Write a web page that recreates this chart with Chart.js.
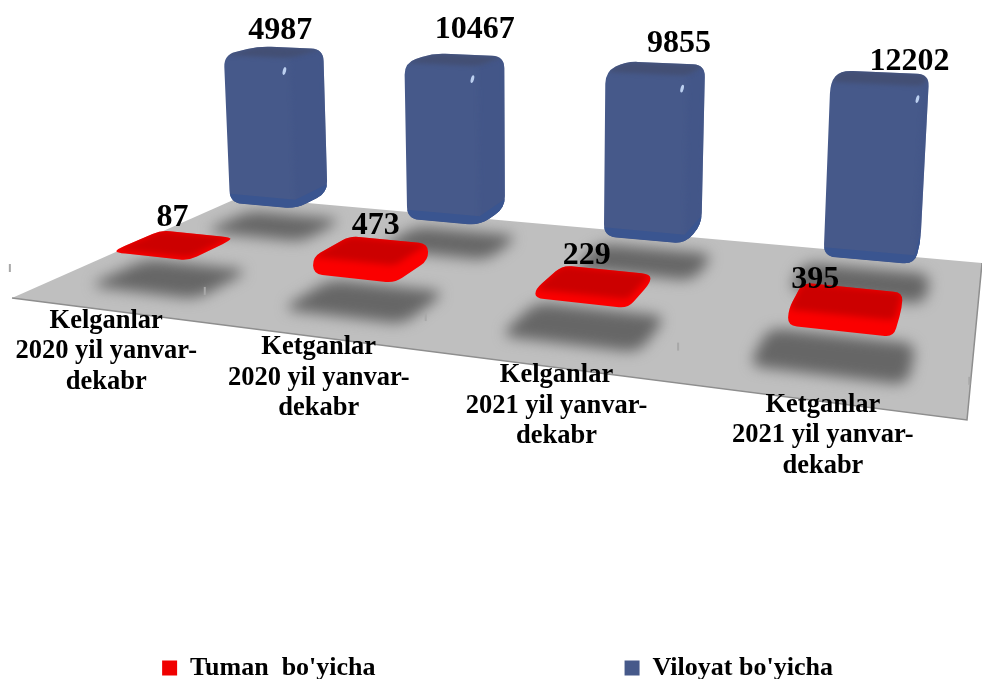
<!DOCTYPE html>
<html>
<head>
<meta charset="utf-8">
<style>
	html, body { margin: 0; background: #fff; }
	canvas { display: block; }
</style>
<script src="https://cdn.jsdelivr.net/npm/chart.js@4/dist/chart.umd.min.js"></script>
</head>
<body>
<canvas id="chart" width="982" height="679"></canvas>
<script>
const categories = [
	["Kelganlar", "2020 yil yanvar-", "dekabr"],
	["Ketganlar", "2020 yil yanvar-", "dekabr"],
	["Kelganlar", "2021 yil yanvar-", "dekabr"],
	["Ketganlar", "2021 yil yanvar-", "dekabr"],
];
const tumanValues = [87, 473, 229, 395];
const viloyatValues = [4987, 10467, 9855, 12202];

// the original value axis stops at 5000, taller bars are cut off there
const axisMax = 5000;

// floor of the 3D view: front left, front right, back right, back left
const floor = [[12, 298], [967, 420], [982, 263], [240, 197]];
const rowDepth = [0.25, 0.75]; // tuman row, viloyat row
const halfU = 0.048;
const halfV = 0.09;
const columnScale = 174; // pixels of a full axis at w = 1
const lift = 33; // bars float over their shadows
const serif = "'Liberation Serif', 'Times New Roman', serif";

// nudges for the labels
const valueShift = [
	[[20, 4], [22, 7], [5, 7], [-26, 14]],
	[[20, 2], [32, -6], [33, -1], [36, 8]],
];
const categoryShift = [[0, 11], [6, 11], [9, 9], [6, 4]];
const legendGap = " ".repeat(38); // wide gap between the two legend entries

// homography from the unit square onto the floor
const [[x0, y0], [x1, y1], [x2, y2], [x3, y3]] = floor;
const sx = x0 - x1 + x2 - x3;
const sy = y0 - y1 + y2 - y3;
const den = (x1 - x2) * (y3 - y2) - (x3 - x2) * (y1 - y2);
const g = (sx * (y3 - y2) - (x3 - x2) * sy) / den;
const h = ((x1 - x2) * sy - sx * (y1 - y2)) / den;

function project(u, v) {
	const w = g * u + h * v + 1;
	return {
		x: (x1 - x0 + g * x1) * u / w + (x3 - x0 + h * x3) * v / w + x0 / w,
		y: (y1 - y0 + g * y1) * u / w + (y3 - y0 + h * y3) * v / w + y0 / w,
		w: w,
	};
}

// move a floor point straight up, verticals lean away from the middle
function raise(p, px) {
	const up = px / p.w;
	return { x: p.x + up * (p.x - 538) * 0.000136, y: p.y - up, w: p.w };
}

function tracePoly(ctx, pts, r) {
	const n = pts.length;
	ctx.beginPath();
	pts.forEach((p, i) => {
		const a = pts[(i + n - 1) % n];
		const b = pts[(i + 1) % n];
		const la = Math.hypot(a.x - p.x, a.y - p.y);
		const lb = Math.hypot(b.x - p.x, b.y - p.y);
		const ta = Math.min(r / la, 0.5);
		const tb = Math.min(r / lb, 0.5);
		const sxp = p.x + (a.x - p.x) * ta;
		const syp = p.y + (a.y - p.y) * ta;
		if (i === 0) ctx.moveTo(sxp, syp);
		else ctx.lineTo(sxp, syp);
		ctx.quadraticCurveTo(p.x, p.y, p.x + (b.x - p.x) * tb, p.y + (b.y - p.y) * tb);
	});
	ctx.closePath();
}

function fillPoly(ctx, pts, color, r, blur) {
	ctx.filter = blur ? "blur(" + blur + "px)" : "none";
	ctx.fillStyle = color;
	tracePoly(ctx, pts, r || 0);
	ctx.fill();
	ctx.filter = "none";
}

function footprint(u, v, su, sv) {
	return [
		project(u - halfU * su, v - halfV * sv),
		project(u + halfU * su, v - halfV * sv),
		project(u + halfU * su, v + halfV * sv),
		project(u - halfU * su, v + halfV * sv),
	];
}

function columnParts(chart, el, datasetIndex) {
	const area = chart.chartArea;
	const u = (el.x - area.left) / area.width;
	const v = rowDepth[datasetIndex];
	const tall = ((el.base - Math.max(el.y, area.top)) / area.height) * columnScale;
	const low = footprint(u, v, 1, 1).map((p) => {
		const q = raise(p, lift);
		q.x += 5 + 6 * u;
		return q;
	});
	const high = low.map((p) => raise(p, tall));
	return { low, high, hull: [low[0], low[1], low[2], high[2], high[3], high[0]] };
}

function drawBlue(ctx, c) {
	const { low, high, hull } = c;
	fillPoly(ctx, hull, "#46598a", 12);
	ctx.save();
	tracePoly(ctx, hull, 12);
	ctx.clip();
	fillPoly(ctx, [low[1], low[2], high[2], high[1]], "#435688", 0, 2);
	fillPoly(ctx, [high[0], high[1], high[2], high[3]], "#434f74", 8, 2);
	const band = (p) => ({ x: p.x, y: p.y - 9 });
	fillPoly(ctx, [low[0], low[1], low[2], band(low[2]), band(low[1]), band(low[0])], "#3a5590", 0);
	ctx.restore();
	// small glint near the top of the front face
	ctx.filter = "blur(0.7px)";
	ctx.fillStyle = "#bcd0f0";
	ctx.beginPath();
	ctx.ellipse(high[1].x - 6, high[1].y + 13, 1.6, 4, 0.25, 0, Math.PI * 2);
	ctx.fill();
	ctx.filter = "none";
}

function drawRed(ctx, c) {
	const { high, hull } = c;
	fillPoly(ctx, hull, "#fb0000", 9);
	ctx.save();
	tracePoly(ctx, hull, 9);
	ctx.clip();
	fillPoly(ctx, high, "#cc0000", 6, 3);
	ctx.restore();
}

const scene = {
	id: "scene",
	beforeDatasetsDraw(chart) {
		const ctx = chart.ctx;
		const area = chart.chartArea;
		const corners = floor.map(([x, y]) => ({ x, y }));
		ctx.save();
		fillPoly(ctx, corners, "#bfbfbf");
		ctx.strokeStyle = "#8e8e8e";
		ctx.lineWidth = 1.5;
		ctx.beginPath();
		ctx.moveTo(corners[0].x, corners[0].y);
		ctx.lineTo(corners[1].x, corners[1].y);
		ctx.lineTo(corners[2].x, corners[2].y);
		ctx.stroke();

		// shadows stay on the floor
		ctx.save();
		tracePoly(ctx, corners, 0);
		ctx.clip();
		chart.data.datasets.forEach((ds, d) => {
			chart.getDatasetMeta(d).data.forEach((el) => {
				const u = (el.x - area.left) / area.width;
				fillPoly(ctx, footprint(u, rowDepth[d], 1.5, 1.3), "#666666", 14, 7);
			});
		});
		ctx.restore();

		// category boundary ticks
		ctx.fillStyle = "#a8a8a8";
		for (let i = 0; i <= categories.length; i++) {
			const t = raise(project(i / categories.length, 0), 30);
			ctx.fillRect(t.x - 1, t.y - 4, 2, 8);
		}
		ctx.restore();
	},
	beforeDatasetDraw(chart, args) {
		const ctx = chart.ctx;
		ctx.save();
		args.meta.data.forEach((el) => {
			const parts = columnParts(chart, el, args.index);
			if (args.index === 0) drawRed(ctx, parts);
			else drawBlue(ctx, parts);
		});
		ctx.restore();
		return false; // the columns replace the flat bars
	},
	afterDatasetsDraw(chart) {
		const ctx = chart.ctx;
		const area = chart.chartArea;
		ctx.save();
		ctx.fillStyle = "#000";
		ctx.textAlign = "center";
		ctx.textBaseline = "middle";

		ctx.font = "bold 26.5px " + serif;
		chart.getDatasetMeta(0).data.forEach((el, i) => {
			const p = project((el.x - area.left) / area.width, 0);
			categories[i].forEach((line, n) => {
				ctx.fillText(line, p.x + categoryShift[i][0], p.y + categoryShift[i][1] + n * 30.5);
			});
		});

		ctx.font = "bold 32px " + serif;
		[1, 0].forEach((d) => {
			chart.getDatasetMeta(d).data.forEach((el, i) => {
				const parts = columnParts(chart, el, d);
				const top = Math.min(...parts.hull.map((p) => p.y));
				const cx = (parts.high[1].x + parts.low[0].x) / 2;
				const value = chart.data.datasets[d].data[i];
				ctx.fillText(value, cx + valueShift[d][i][0], top - 17 + valueShift[d][i][1]);
			});
		});
		ctx.restore();
	},
};

new Chart(document.getElementById("chart"), {
	type: "bar",
	data: {
		labels: categories,
		datasets: [
			{ label: "Tuman  bo'yicha", data: tumanValues, backgroundColor: "#f00000", grouped: false },
			{ label: "Viloyat bo'yicha", data: viloyatValues, backgroundColor: "#46598a", grouped: false },
		],
	},
	options: {
		responsive: false,
		animation: false,
		layout: { padding: { left: 13 } },
		scales: {
			x: { display: false },
			y: { display: false, min: 0, max: axisMax },
		},
		plugins: {
			tooltip: { enabled: false },
			legend: {
				position: "bottom",
				maxHeight: 26,
				labels: {
					boxWidth: 15,
					boxHeight: 15,
					padding: 2,
					color: "#000",
					font: { family: serif, size: 26, weight: "bold" },
					generateLabels(chart) {
						const items = Chart.defaults.plugins.legend.labels.generateLabels(chart);
						items[0].text += legendGap;
						return items;
					},
				},
			},
		},
	},
	plugins: [scene],
});
</script>
</body>
</html>
